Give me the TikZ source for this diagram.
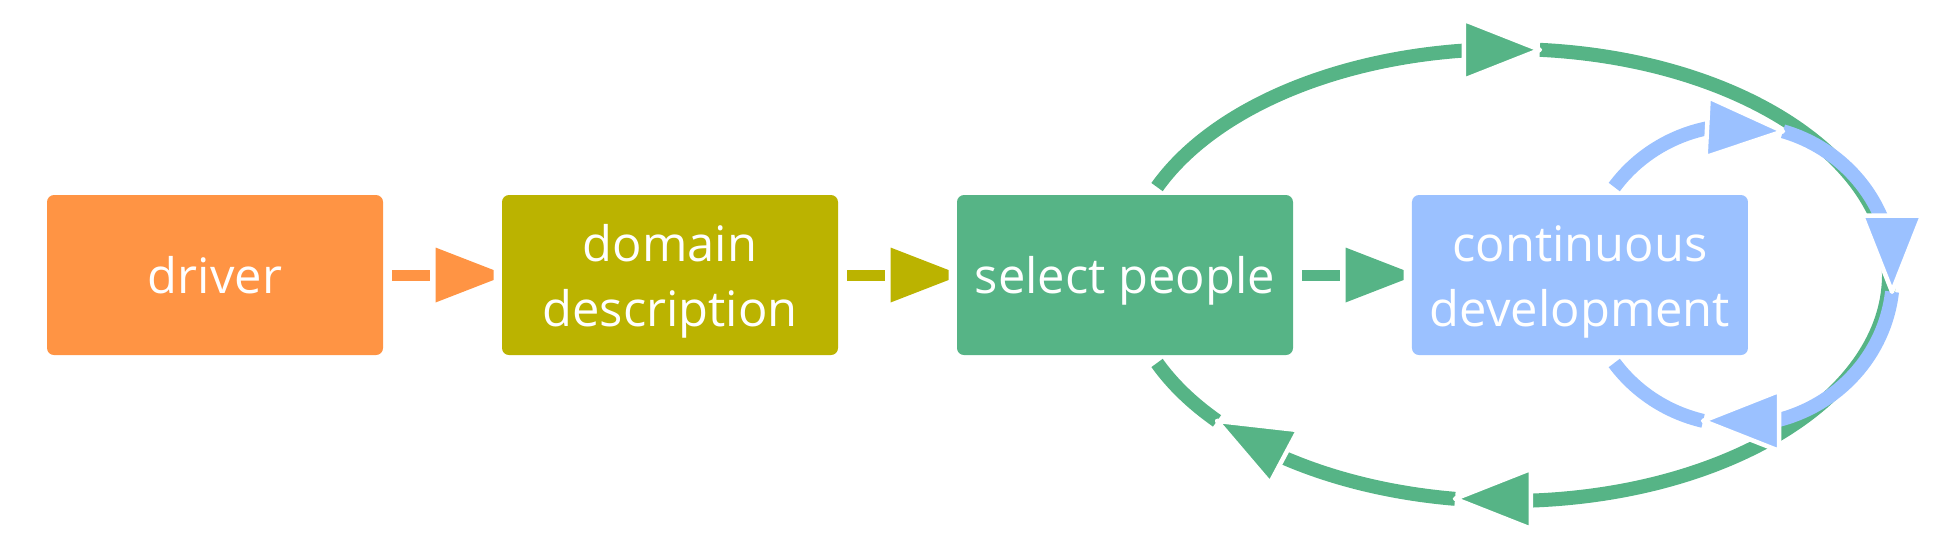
\documentclass[tikz,border=0pt]{standalone}
\usepackage{fontspec}
\setmainfont{Open Sans}
\usepackage{tikz}
\usetikzlibrary{matrix,calc}

\definecolor{drivercol}{RGB}{255,148,68}
\definecolor{domaincol}{RGB}{187,179,0}
\definecolor{peoplecol}{RGB}{86,180,134}
\definecolor{devcol}{RGB}{155,193,255}

\tikzset{
  head/.pic={\path[pic actions] (0,0) -- (-76,-30) -- (-76,30) -- cycle;},
  flowarrow/.pic={\fill[pic actions] (-51,-5.5) rectangle (-13,5.5);
    \fill[pic actions] (-7,-27.5) -- (51,-5) -- (51,5) -- (-7,27.5) -- cycle;},
  ring/.style={line width=1.4mm},
  cuthead/.style={draw=white, line width=.45mm, line join=round},
}

\begin{document}
\begin{tikzpicture}[x=0.1mm, y=-0.1mm]
\useasboundingbox (0,0) rectangle (1944,544);

    	\matrix (steps) at (897.5,275) [matrix of nodes, column sep=11.9mm,
    		nodes={rectangle, rounded corners=0.7mm, minimum width=33.6mm, minimum height=16mm,
    		anchor=center, inner sep=0pt, text=white, font=\fontsize{13.9pt}{18.5pt}\selectfont,
    		text height=10.8pt, text depth=0pt} ]{
      			|[fill=drivercol]| driver &
      			|[fill=domaincol, text depth=18.5pt]| \begin{tabular}[t]{@{}c@{}}domain\\description\end{tabular} &
      			|[fill=peoplecol]| select people &
      			|[fill=devcol, text depth=18.5pt]| \begin{tabular}[t]{@{}c@{}}continuous\\development\end{tabular} \\
  		};

    	% straight arrows between the steps
    	\foreach \a/\b/\c in {1/2/drivercol, 2/3/domaincol, 3/4/peoplecol}
    		\path ($(steps-1-\a.east)!0.5!(steps-1-\b.west)$) pic[fill=\c] {flowarrow};

    	\coordinate (outer) at (1508,275);
    	\coordinate (inner) at (1739,275);

    	% big loop round select people and continuous development
    	\foreach \ta/\tb in {-157.1/-95.6, -85.2/87.3, 98/126.9, 139.8/157.1}
    		\draw[ring, peoplecol] (outer) ++(\ta:381 and 226) arc[start angle=\ta, end angle=\tb, x radius=381, y radius=226];
    	\foreach \pos/\rot in {-85.2/0, 98/180, 139.8/152}
    		\path (outer) ++(\pos:381 and 226) pic[rotate=\rot, cuthead, fill=peoplecol] {head};

    	% small loop round continuous development
    	\foreach \ta/\tb in {-144.1/-100.5, -73.4/-20.8, 6.4/76.5, 103.5/144.1}
    		\draw[ring, devcol] (inner) ++(\ta:154 and 150) arc[start angle=\ta, end angle=\tb, x radius=154, y radius=150];
    	\foreach \pos/\rot in {-73.4/-3, 6.4/-90, 103.5/180}
    		\path (inner) ++(\pos:154 and 150) pic[rotate=\rot, cuthead, fill=devcol] {head};

\end{tikzpicture}
\end{document}
